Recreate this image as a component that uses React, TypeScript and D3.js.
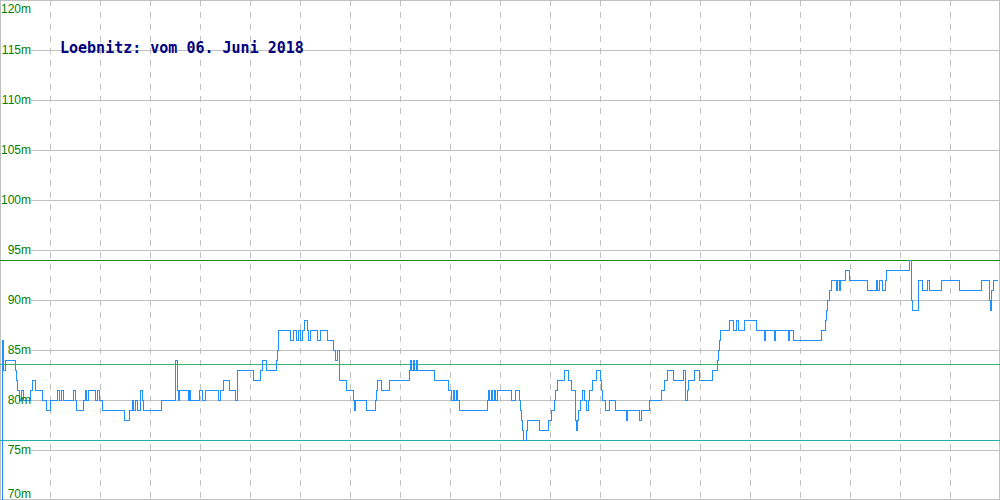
import * as d3 from "d3";

// Pegel Loebnitz, 06.06.2018 - Messpunkte (Index, Wasserstand in m)
const title = "Loebnitz: vom 06. Juni 2018";

const yTicks = [70, 75, 80, 85, 90, 95, 100, 105, 110, 115, 120];
const xGrid = [50, 100, 150, 200, 250, 300, 350, 400, 450, 500, 550, 600, 650, 700, 750, 800, 850, 900, 950];

// Grenzwerte
const limitHigh = 94;
const limitMid = 83.6;
const limitLow = 76;

// Index der Messung, an dem sich der Wert ändert
const messung = [
  0, 2, 3, 5, 15, 16, 17, 19, 21, 23, 30, 32, 35, 42, 46, 50, 57, 59, 61, 63, 73, 75, 76, 83, 85, 86, 88, 95, 97, 99,
  102, 124, 129, 132, 133, 135, 137, 140, 142, 143, 161,
  175, 177, 178, 179, 188, 189, 190, 199, 202, 205, 218, 220, 223, 229, 235, 237, 253, 260, 262, 266, 276, 277, 278,
  290, 293, 296, 298, 300, 302, 304, 307, 308, 310, 317, 320, 327, 333, 335, 337, 339, 346, 353,
  354, 355, 366, 375, 376, 377, 381, 389, 409, 410, 411, 413, 414, 416, 417, 434, 448, 451, 453, 454, 456, 457, 459,
  487, 488, 489, 491, 492, 494, 495, 497, 511, 515, 519, 520, 521, 522, 523, 526, 527, 539, 548, 551, 554,
  555, 557, 564, 568, 571, 575, 576, 577, 578, 580, 582, 584, 586, 588, 589, 592, 596, 600, 601, 602, 605, 609, 615,
  626, 627, 639, 641, 649, 661, 664, 667, 673, 683, 685, 687, 688, 694, 699, 712, 717, 718, 719, 720,
  729, 733, 736, 738, 744, 756, 764, 765, 774, 775, 788, 789, 793, 821, 825, 826, 827, 829, 831, 836, 837, 839, 840,
  845, 849, 867, 876, 877, 879, 882, 885, 886, 909, 911, 912, 918, 922, 927, 929, 941, 959, 981, 989, 990, 991, 993,
  997,
];

const pegel = [
  70, 86, 83, 84, 83, 82, 81, 80, 81, 80, 81, 82, 81, 80, 79, 80, 81, 80, 81, 80, 81, 80, 79, 80, 81, 80, 81, 80, 81, 80,
  79, 78, 79, 80, 79, 80, 79, 81, 80, 79, 80,
  84, 81, 80, 81, 80, 81, 80, 81, 80, 81, 80, 81, 82, 81, 80, 83, 82, 83, 84, 83, 84, 85, 87,
  86, 87, 86, 87, 86, 87, 88, 87, 86, 87, 86, 87, 86, 85, 84, 85, 82, 81, 80,
  79, 80, 79, 80, 81, 82, 81, 82, 83, 84, 83, 84, 83, 84, 83, 82, 81, 80, 81, 80, 81, 80, 79,
  80, 81, 80, 81, 80, 81, 80, 81, 80, 81, 80, 79, 78, 77, 76, 77, 78, 77, 78, 79, 80,
  81, 82, 83, 82, 81, 78, 77, 78, 79, 80, 81, 80, 79, 80, 81, 82, 83, 82, 81, 80, 79, 80, 79,
  78, 79, 78, 79, 80, 81, 82, 83, 82, 83, 80, 81, 82, 83, 82, 83, 84, 85, 86, 87,
  88, 87, 88, 87, 88, 87, 86, 87, 86, 87, 86, 87, 86, 87, 88, 89, 90, 91, 92, 91, 92, 91, 92,
  93, 92, 91, 92, 91, 92, 91, 92, 93, 94, 90, 89, 92, 91, 92, 91, 92, 91, 92, 90, 89, 91, 92,
  92,
];

const width = 1000;
const height = 500;

export default function App() {
  const x = d3.scaleLinear([0, 1000], [0, width]);
  const y = d3.scaleLinear([70, 120], [height, 0]);

  const data = messung.map((m, i) => [m, pegel[i]] as [number, number]);
  const line = d3
    .line<[number, number]>()
    .x((d) => x(d[0]))
    .y((d) => y(d[1]))
    .curve(d3.curveStepAfter);

  const gridColor = "#c0c0c0";
  const labelLeft = 31;
  const px = (v: number) => Math.round(v) + 0.5;

  return (
    <svg
      width={width}
      height={height}
      style={{ position: "absolute", left: 0, top: 0, display: "block", background: "#fff" }}
    >
      {/* Hilfslinien */}
      <g shapeRendering="crispEdges">
        {xGrid.map((v) => (
          <line key={v} x1={px(x(v))} x2={px(x(v))} y1={0} y2={height} stroke={gridColor} strokeDasharray="6,6" />
        ))}
        {yTicks.map((v) => (
          <line key={v} x1={labelLeft} x2={width} y1={px(y(v))} y2={px(y(v))} stroke={gridColor} />
        ))}
        <rect x={0.5} y={0.5} width={width - 1} height={height - 1} fill="none" stroke={gridColor} />
      </g>

      {/* Grenzwerte */}
      <g shapeRendering="crispEdges">
        <line x1={0} x2={width} y1={px(y(limitHigh))} y2={px(y(limitHigh))} stroke="#1a8c1a" />
        <line x1={0} x2={width} y1={px(y(limitMid))} y2={px(y(limitMid))} stroke="#3cb371" />
        <line x1={0} x2={width} y1={px(y(limitLow))} y2={px(y(limitLow))} stroke="#20b2aa" />
      </g>

      {/* Pegelverlauf */}
      <path
        d={line(data) || ""}
        transform="translate(0.5,0.5)"
        fill="none"
        stroke="#1e90ff"
        strokeWidth={1}
        shapeRendering="crispEdges"
      />

      {/* Achsenbeschriftung */}
      <g fontFamily="'Liberation Sans', Arial, sans-serif" fontSize={12} fill="#008000" textAnchor="end">
        {yTicks.map((v) => (
          <text key={v} x={labelLeft} y={Math.min(Math.max(y(v) + 4, 13), 498)}>
            {v}m
          </text>
        ))}
      </g>

      <text x={60} y={53} fontFamily="'DejaVu Sans Mono', monospace" fontWeight="bold" fontSize={15} fill="#000080">
        {title}
      </text>
    </svg>
  );
}
